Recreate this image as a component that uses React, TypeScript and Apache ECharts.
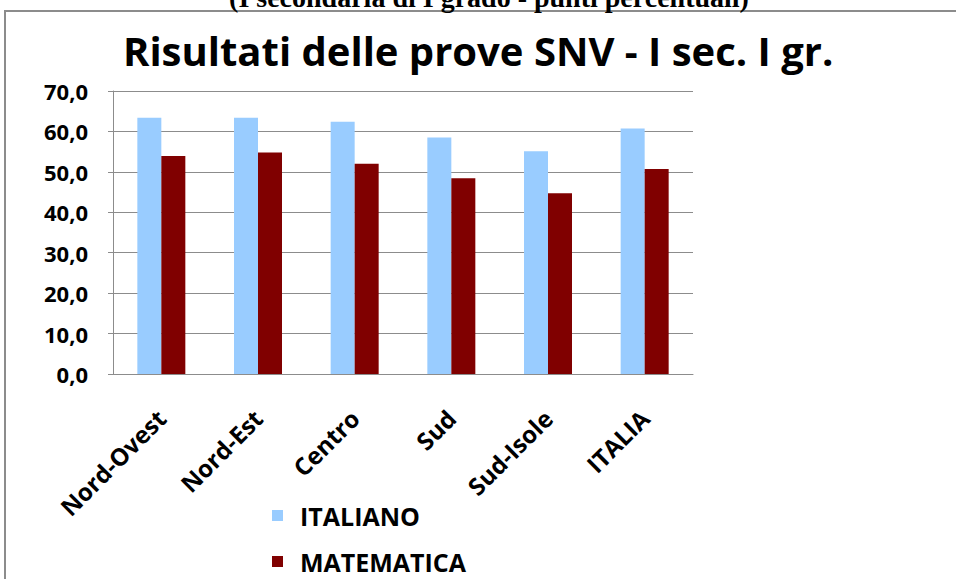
import React, { useEffect, useRef } from "react";
import * as echarts from "echarts";

const categories = ["Nord-Ovest", "Nord-Est", "Centro", "Sud", "Sud-Isole", "ITALIA"];
const italiano = [63.4, 63.4, 62.4, 58.5, 55.1, 60.7];
const matematica = [53.9, 54.8, 52.0, 48.4, 44.7, 50.7];
const yTicks = { min: 0, max: 70, interval: 10 };

export default function App() {
  const ref = useRef<HTMLDivElement>(null);
  useEffect(() => {
    const chart = echarts.init(ref.current!, undefined, { renderer: "svg" });
    const legendText = {
      fontSize: 25,
      fontWeight: "bold",
      color: "#000",
      fontFamily: "Open Sans",
      padding: [0, 0, 0, 12],
    };
    chart.setOption({
      animation: false,
      backgroundColor: "#ffffff",
      textStyle: { fontFamily: "Open Sans" },
      graphic: [
        {
          type: "rect",
          shape: { x: 5, y: 11, width: 1000, height: 700 },
          style: { fill: "none", stroke: "#8c8c8c", lineWidth: 2 },
          silent: true,
        },
        {
          type: "text",
          x: 489,
          y: 11,
          style: {
            text: "(I secondaria di I grado - punti percentuali)",
            font: "bold 28px 'Liberation Serif'",
            fill: "#000",
            align: "center",
            verticalAlign: "bottom",
          },
        },
        {
          type: "text",
          x: 123,
          y: 30,
          style: {
            text: "Risultati delle prove SNV - I sec. I gr.",
            font: "bold 40px 'Open Sans'",
            fill: "#000",
            align: "left",
            verticalAlign: "top",
          },
        },
      ],
      legend: [
        {
          left: 267,
          top: 498,
          itemWidth: 11,
          itemHeight: 11,
          icon: "rect",
          textStyle: legendText,
          data: ["ITALIANO"],
        },
        {
          left: 267,
          top: 544,
          itemWidth: 11,
          itemHeight: 11,
          icon: "rect",
          textStyle: legendText,
          data: ["MATEMATICA"],
        },
      ],
      grid: { left: 113, right: 263, top: 91, bottom: 205, containLabel: false },
      xAxis: {
        type: "category",
        data: categories,
        axisLine: { lineStyle: { color: "#8c8c8c" } },
        axisTick: { show: false },
        axisLabel: {
          rotate: 45,
          interval: 0,
          fontSize: 24,
          fontWeight: "bold",
          color: "#000",
          margin: 40,
        },
      },
      yAxis: {
        type: "value",
        min: yTicks.min,
        max: yTicks.max,
        interval: yTicks.interval,
        axisLine: { show: true, lineStyle: { color: "#8c8c8c" } },
        axisTick: { show: true, length: 5, lineStyle: { color: "#8c8c8c" } },
        splitLine: { lineStyle: { color: "#8c8c8c" } },
        axisLabel: {
          fontSize: 22,
          fontWeight: "bold",
          color: "#000",
          margin: 25,
          formatter: (v: number) => v.toFixed(1).replace(".", ","),
        },
      },
      series: [
        {
          name: "ITALIANO",
          type: "bar",
          data: italiano,
          barWidth: 24,
          barGap: "0%",
          itemStyle: { color: "#99ccff" },
        },
        {
          name: "MATEMATICA",
          type: "bar",
          data: matematica,
          barWidth: 24,
          barGap: "0%",
          itemStyle: { color: "#800000" },
        },
      ],
    });
    return () => chart.dispose();
  }, []);
  return (
    <div
      ref={ref}
      style={{ position: "fixed", left: 0, top: 0, width: 956, height: 579 }}
    />
  );
}
